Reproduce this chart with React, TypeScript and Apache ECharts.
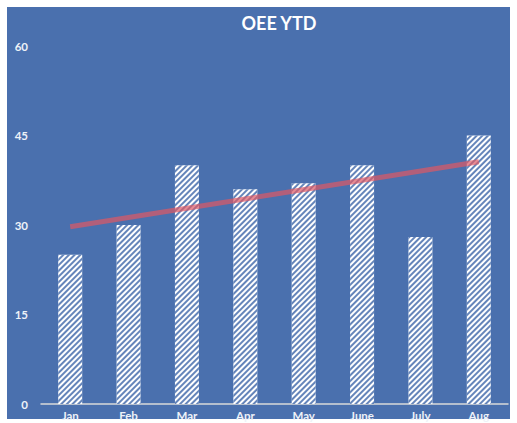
import React, { useEffect, useRef } from "react";
import * as echarts from "echarts";

const categories = ["Jan", "Feb", "Mar", "Apr", "May", "June", "July", "Aug"];
const oeeValues = [25, 30, 40, 36, 37, 40, 28, 45];
const trendStart = 29.7;
const trendEnd = 40.6;
const yTicks = { min: 0, max: 60, interval: 15 };

const BG = "#4a70ae";

export default function App() {
  const ref = useRef<HTMLDivElement>(null);
  useEffect(() => {
    if (!ref.current) return;
    const chart = echarts.init(ref.current, undefined, { renderer: "svg" });
    chart.setOption({
      animation: false,
      backgroundColor: "#ffffff",
      textStyle: { fontFamily: "Lato" },
      graphic: [
        {
          type: "rect",
          z: -10,
          silent: true,
          shape: { x: 7, y: 7, width: 503, height: 412 },
          style: { fill: BG },
        },
      ],
      title: {
        text: "OEE YTD",
        left: 274,
        top: 9,
        textAlign: "center",
        textStyle: { color: "#ffffff", fontSize: 18, fontWeight: "bold", fontFamily: "Lato" },
      },
      grid: { left: 41, right: 9, top: 46, bottom: 19 },
      xAxis: {
        type: "category",
        data: categories,
        axisLine: { lineStyle: { color: "#d9d9d9", width: 1.5 } },
        axisTick: { show: false },
        axisLabel: { color: "#eef2f8", fontSize: 11.5, margin: 5, fontWeight: "bold" },
      },
      yAxis: {
        type: "value",
        min: yTicks.min,
        max: yTicks.max,
        interval: yTicks.interval,
        splitLine: { show: false },
        axisLine: { show: false },
        axisTick: { show: false },
        axisLabel: { color: "#eef2f8", fontSize: 11.5, margin: 13, fontWeight: "bold" },
      },
      series: [
        {
          type: "bar",
          data: oeeValues,
          barWidth: 24,
          itemStyle: {
            color: "#ffffff",
            decal: {
              symbol: "rect",
              symbolSize: 1,
              color: "rgba(74,112,174,0.85)",
              dashArrayX: [1, 0],
              dashArrayY: [1.4, 1.9],
              rotation: -Math.PI / 4,
            },
          },
        },
        {
          type: "line",
          data: [
            [categories[0], trendStart],
            [categories[categories.length - 1], trendEnd],
          ],
          symbol: "none",
          lineStyle: { color: "rgba(222, 88, 100, 0.7)", width: 5 },
          z: 5,
        },
      ],
    });
    return () => chart.dispose();
  }, []);
  return (
    <div
      ref={ref}
      style={{ position: "absolute", left: 0, top: 0, width: 517, height: 423 }}
    />
  );
}
